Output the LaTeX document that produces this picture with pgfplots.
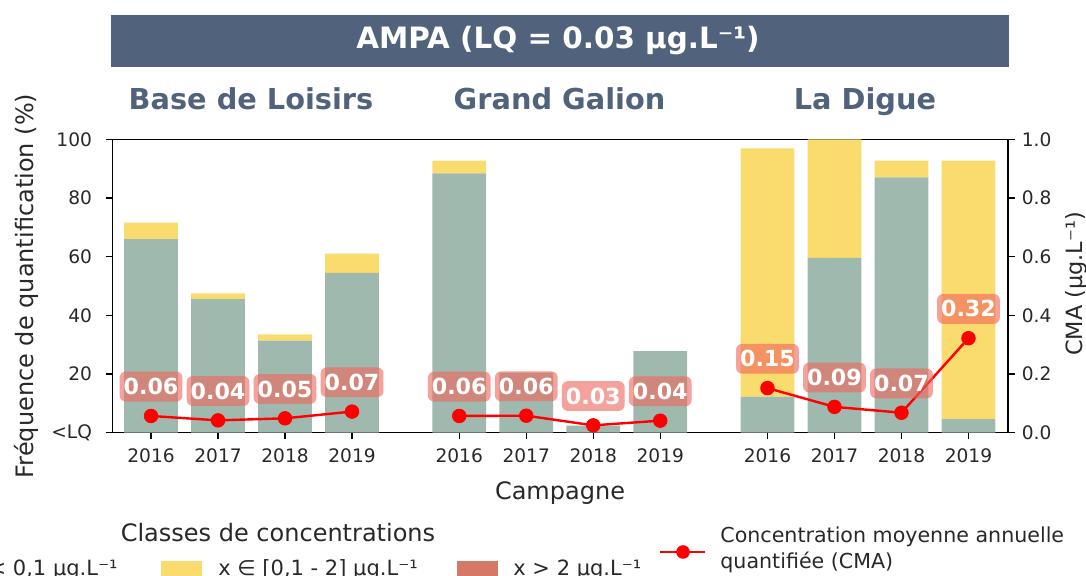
\documentclass[border=0pt]{standalone}
\usepackage{fontspec}
\setmainfont{DejaVu Sans}
\usepackage{pgfplots}
\pgfplotsset{compat=1.18}
\definecolor{cgreen}{RGB}{160,185,174}
\definecolor{cyellow}{RGB}{250,219,109}
\definecolor{cred}{RGB}{214,120,102}
\definecolor{cslate}{RGB}{81,99,124}
\definecolor{csalmon}{RGB}{240,100,90}
\definecolor{ctext}{RGB}{40,40,40}
\begin{document}
\begin{tikzpicture}
\useasboundingbox (0,0) rectangle (543pt,288pt);
\clip (0,0) rectangle (543pt,288pt);
\pgfplotsset{
  base/.style={
    at={(56.35pt,71.65pt)}, anchor=south west,
    scale only axis, width=447.65pt, height=146.7pt,
    xmin=-0.572, xmax=12.79,
    tick align=outside, major tick length=3.35pt,
    axis line style={line width=0.65pt},
    every tick/.style={black,line width=0.65pt},
    tick label style={font=\fontsize{9.3}{11}\selectfont, text=ctext},
    /pgf/number format/assume math mode=true,
  }
}
\begin{axis}[base,
  ymin=0, ymax=100,
  ybar stacked, bar width=0.8,
  xtick={0,1,2,3,4.6,5.6,6.6,7.6,9.2,10.2,11.2,12.2},
  xticklabels={2016,2017,2018,2019,2016,2017,2018,2019,2016,2017,2018,2019},
  ytick={0,20,40,60,80,100},
  yticklabels={<LQ,20,40,60,80,100},
  xtick pos=bottom, ytick pos=left,
  xticklabel style={yshift=-1.2pt},
  yticklabel style={xshift=-3.5pt},
]
\addplot[fill=cgreen, draw=none] coordinates {
 (0,66.0) (1,45.5) (2,31.4) (3,54.5)
 (4.6,88.4) (5.6,20.5) (6.6,2.4) (7.6,27.8)
 (9.2,12.3) (10.2,59.6) (11.2,87.0) (12.2,4.6)};
\addplot[fill=cyellow, draw=none] coordinates {
 (0,5.6) (1,2.0) (2,2.1) (3,6.5)
 (4.6,4.3) (5.6,0) (6.6,0) (7.6,0)
 (9.2,84.6) (10.2,40.4) (11.2,5.7) (12.2,88.1)};
\end{axis}
\begin{axis}[base,
  ymin=0, ymax=1,
  axis x line=none, axis y line*=right,
  ytick={0,0.2,0.4,0.6,0.8,1.0},
  yticklabel style={/pgf/number format/.cd,fixed,fixed zerofill,precision=1},
  nodes near coords, point meta=explicit symbolic,
  every node near coord/.style={anchor=center, yshift=14.67pt,
    font=\bfseries\fontsize{11.1}{13}\selectfont, text=white,
    fill=csalmon, fill opacity=0.6, text opacity=1,
    rounded corners=3pt, inner xsep=2pt, inner ysep=3.4pt,
    text height=8.1pt, text depth=0pt},
]
\addplot[red, line width=1.2pt, mark=*, mark size=3.4pt, mark options={line width=0.4pt}]
 coordinates {(0,0.057)[0.06] (1,0.042)[0.04] (2,0.049)[0.05] (3,0.072)[0.07]};
\addplot[red, line width=1.2pt, mark=*, mark size=3.4pt, mark options={line width=0.4pt}]
 coordinates {(4.6,0.057)[0.06] (5.6,0.058)[0.06] (6.6,0.025)[0.03] (7.6,0.041)[0.04]};
\addplot[red, line width=1.2pt, mark=*, mark size=3.4pt, mark options={line width=0.4pt}]
 coordinates {(9.2,0.152)[0.15] (10.2,0.088)[0.09] (11.2,0.068)[0.07] (12.2,0.322)[0.32]};
\end{axis}
\begin{scope}[x=0.5pt, y=-0.5pt, shift={(0pt,288pt)}]
 \fill[cslate] (111,15.3) rectangle (1009,66.7);
 \node[anchor=base, text=white, font=\bfseries\fontsize{14.7}{17}\selectfont, inner sep=0pt] at (558,49) {AMPA (LQ = 0.03 µg.L⁻¹)};
 \node[anchor=base, text=cslate, font=\bfseries\fontsize{14.4}{17}\selectfont, inner sep=0pt] at (251,110) {Base de Loisirs};
 \node[anchor=base, text=cslate, font=\bfseries\fontsize{14.4}{17}\selectfont, inner sep=0pt] at (559.5,110) {Grand Galion};
 \node[anchor=base, text=cslate, font=\bfseries\fontsize{14.4}{17}\selectfont, inner sep=0pt] at (865,110) {La Digue};
 \node[anchor=base, rotate=90, text=ctext, font=\fontsize{12}{14}\selectfont, inner sep=0pt] at (33,286) {Fréquence de quantification (\%)};
 \node[anchor=base, rotate=90, text=ctext, font=\fontsize{11.2}{13}\selectfont, inner sep=0pt] at (1082,284) {CMA (µg.L⁻¹)};
 \node[anchor=base, text=ctext, font=\fontsize{12}{14}\selectfont, inner sep=0pt] at (560,500) {Campagne};
 % legend
 \node[anchor=base, text=ctext, font=\fontsize{12}{14}\selectfont, inner sep=0pt] at (278,542) {Classes de concentrations};
 \node[anchor=base east, text=ctext, font=\fontsize{10.5}{12}\selectfont, inner sep=0pt] at (118,576) {< 0,1 µg.L⁻¹};
 \fill[cyellow] (161,561) rectangle (202,576);
 \node[anchor=base west, text=ctext, font=\fontsize{10.5}{12}\selectfont, inner sep=0pt] at (218,576) {x ∈ [0,1 - 2] µg.L⁻¹};
 \fill[cred] (457,561) rectangle (498,576);
 \node[anchor=base west, text=ctext, font=\fontsize{10.5}{12}\selectfont, inner sep=0pt] at (513,576) {x > 2 µg.L⁻¹};
 \draw[red, line width=1.2pt] (660,552) -- (705,552);
 \fill[red] (683,552) circle (6.8);
 \node[anchor=west, text=ctext, font=\fontsize{10.3}{12}\selectfont, inner sep=0pt] at (720,537) {Concentration moyenne annuelle};
 \node[anchor=west, text=ctext, font=\fontsize{10.3}{12}\selectfont, inner sep=0pt] at (720,562) {quantifiée (CMA)};
\end{scope}
\end{tikzpicture}
\end{document}
